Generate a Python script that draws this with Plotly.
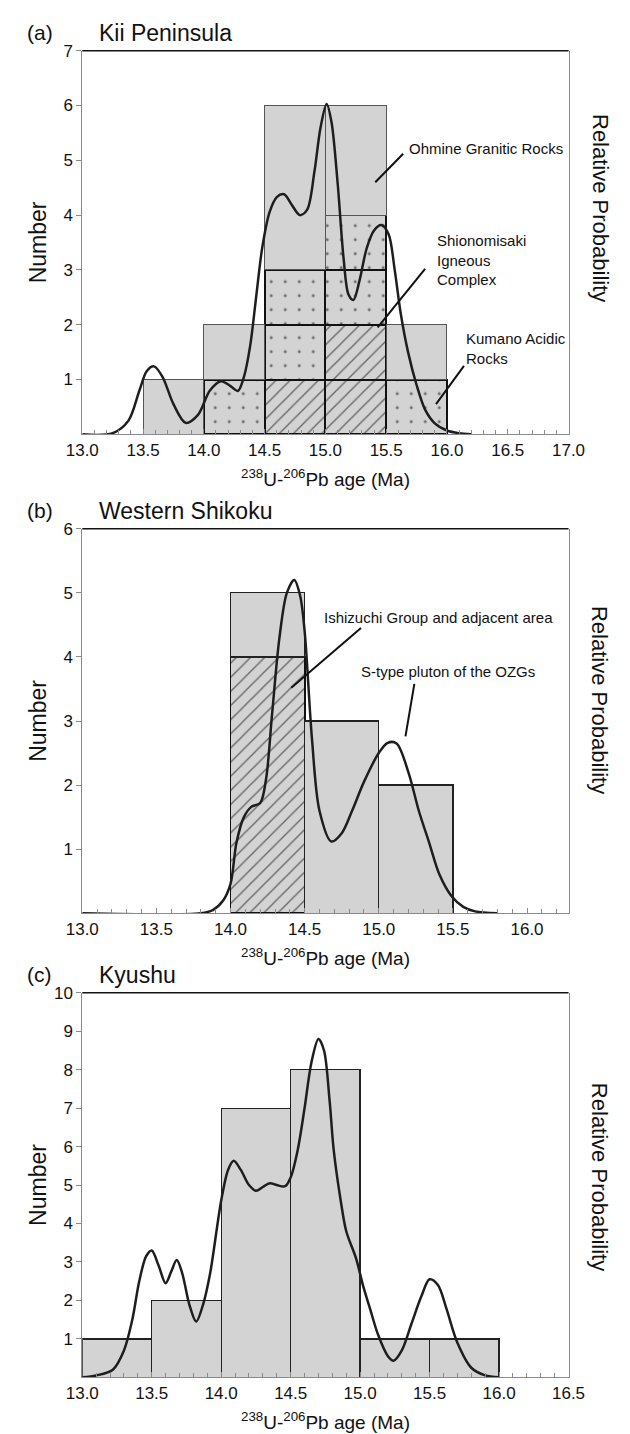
import plotly.graph_objects as go

W, H = 630, 1434
BIN = 0.5

# ---------------- data ----------------
# (a) Kii Peninsula
a_bin_left = [13.5, 14.0, 14.5, 15.0, 15.5]
a_shionomisaki = [0, 0, 1, 2, 0]   # hatched
a_kumano = [0, 1, 2, 2, 1]         # dotted
a_ohmine = [1, 1, 3, 2, 1]         # plain grey
a_curve_x = [13.0, 13.25, 13.38, 13.47, 13.53, 13.59, 13.66, 13.75, 13.85, 13.95, 14.05, 14.14,
             14.22, 14.28, 14.33, 14.38, 14.43, 14.48, 14.54, 14.60, 14.66, 14.72, 14.79, 14.85,
             14.91, 14.96, 15.01, 15.05, 15.10, 15.15, 15.19, 15.23, 15.28, 15.34, 15.40, 15.46,
             15.52, 15.57, 15.62, 15.68, 15.75, 15.82, 15.90, 16.00, 16.10, 16.20]
a_curve_y = [0.0, 0.02, 0.25, 0.8, 1.15, 1.24, 1.05, 0.55, 0.21, 0.35, 0.8, 0.97,
             0.88, 0.79, 1.05, 1.6, 2.5, 3.4, 4.05, 4.33, 4.38, 4.2, 4.0, 4.1,
             4.8, 5.6, 6.03, 5.7, 4.6, 3.2, 2.55, 2.45, 2.8, 3.4, 3.72, 3.82,
             3.65, 3.0, 2.2, 1.5, 0.9, 0.45, 0.2, 0.07, 0.02, 0.0]

# (b) Western Shikoku
b_bin_left = [14.0, 14.5, 15.0]
b_ishizuchi = [4, 0, 0]            # hatched
b_other = [1, 3, 2]                # plain grey
b_curve_x = [13.0, 13.8, 13.88, 13.95, 14.0, 14.04, 14.09, 14.14, 14.2, 14.24, 14.28, 14.33,
             14.38, 14.43, 14.47, 14.5, 14.55, 14.6, 14.68, 14.75, 14.82, 14.9, 15.0, 15.06,
             15.12, 15.2, 15.27, 15.34, 15.41, 15.49, 15.57, 15.65, 15.8]
b_curve_y = [0.0, 0.0, 0.05, 0.2, 0.46, 1.1, 1.5, 1.66, 1.72, 2.1, 3.1, 4.3,
             5.0, 5.2, 4.95, 4.4, 2.7, 1.6, 1.12, 1.25, 1.6, 2.05, 2.5, 2.66,
             2.65, 2.2, 1.6, 1.1, 0.6, 0.27, 0.1, 0.03, 0.0]

# (c) Kyushu
c_bin_left = [13.0, 13.5, 14.0, 14.5, 15.0, 15.5]
c_counts = [1, 2, 7, 8, 1, 1]
c_curve_x = [13.0, 13.1, 13.22, 13.3, 13.36, 13.41, 13.46, 13.5, 13.55, 13.6, 13.64, 13.68,
             13.72, 13.77, 13.82, 13.87, 13.92, 14.0, 14.05, 14.09, 14.14, 14.2, 14.25, 14.3,
             14.35, 14.4, 14.46, 14.5, 14.55, 14.6, 14.65, 14.7, 14.74, 14.78, 14.81, 14.86,
             14.9, 14.97, 15.02, 15.07, 15.13, 15.2, 15.24, 15.3, 15.37, 15.44, 15.5, 15.56,
             15.62, 15.7, 15.8, 15.9, 16.0]
c_curve_y = [0.0, 0.05, 0.2, 0.7, 1.5, 2.5, 3.15, 3.3, 2.9, 2.45, 2.75, 3.05,
             2.7, 1.9, 1.45, 1.9, 2.7, 4.6, 5.4, 5.63, 5.4, 5.0, 4.85, 4.95,
             5.05, 5.0, 4.97, 5.2, 5.9, 7.0, 8.2, 8.8, 8.5, 7.2, 5.9, 4.6,
             3.8, 3.1, 2.4, 1.8, 1.1, 0.55, 0.43, 0.7, 1.4, 2.1, 2.55, 2.4,
             1.8, 0.9, 0.25, 0.05, 0.0]

x_title = "<sup>238</sup>U-<sup>206</sup>Pb age (Ma)"

# ---------------- layout geometry (pixels) ----------------
PX_L, PX_R = 69, 583
panels = [
    dict(top=42, bot=428, xr=[13.0, 17.0], ymax=7, label="(a)", title="Kii Peninsula", rp=200),
    dict(top=523, bot=910, xr=[13.0, 16.28], ymax=6, label="(b)", title="Western Shikoku", rp=695),
    dict(top=990, bot=1377, xr=[13.0, 16.5], ymax=10, label="(c)", title="Kyushu", rp=1175),
]

def py(p):
    return 1 - p / H

def px(p):
    return p / W

FONT = "Liberation Sans, Arial, sans-serif"
TICKFONT = "Liberation Sans Narrow, Liberation Sans, Arial, sans-serif"
GREY = "#d3d3d3"
AXC = "#8a8a8a"

fig = go.Figure()

def centers(lefts):
    return [l + BIN / 2 for l in lefts]

def unit_layers(counts):
    return [[1 if c > k else None for c in counts] for k in range(max(counts))]

hatch = dict(shape="/", fgcolor="#000", size=10, solidity=0.14, fillmode="overlay")
dots = dict(shape=".", fgcolor="#000", size=14, solidity=0.035, fillmode="overlay")

# (a)
xa = centers(a_bin_left)
for layer in unit_layers(a_shionomisaki):
    fig.add_trace(go.Bar(x=xa, y=layer, width=BIN, xaxis="x", yaxis="y",
                         marker=dict(color=GREY, pattern=hatch, line=dict(color="#111", width=2))))
for layer in unit_layers(a_kumano):
    fig.add_trace(go.Bar(x=xa, y=layer, width=BIN, xaxis="x", yaxis="y",
                         marker=dict(color=GREY, pattern=dots, line=dict(color="#111", width=2))))
fig.add_trace(go.Bar(x=xa, y=a_ohmine, width=BIN, xaxis="x", yaxis="y",
                     marker=dict(color=GREY, line=dict(color="#555", width=1))))
fig.add_trace(go.Scatter(x=a_curve_x, y=a_curve_y, mode="lines", xaxis="x", yaxis="y",
                         line=dict(color="#1e1e1e", width=2.5, shape="spline", smoothing=0.9)))

# (b)
xb = centers(b_bin_left)
fig.add_trace(go.Bar(x=xb, y=[v if v else None for v in b_ishizuchi], width=BIN, xaxis="x2", yaxis="y2",
                     marker=dict(color=GREY, pattern=hatch, line=dict(color="#111", width=1.8))))
fig.add_trace(go.Bar(x=xb, y=b_other, width=BIN, xaxis="x2", yaxis="y2",
                     marker=dict(color=GREY, line=dict(color="#222", width=1.3))))
fig.add_trace(go.Scatter(x=b_curve_x, y=b_curve_y, mode="lines", xaxis="x2", yaxis="y2",
                         line=dict(color="#1e1e1e", width=2.5, shape="spline", smoothing=0.9)))

# (c)
xc = centers(c_bin_left)
fig.add_trace(go.Bar(x=xc, y=c_counts, width=BIN, xaxis="x3", yaxis="y3",
                     marker=dict(color=GREY, line=dict(color="#222", width=1.3))))
fig.add_trace(go.Scatter(x=c_curve_x, y=c_curve_y, mode="lines", xaxis="x3", yaxis="y3",
                         line=dict(color="#1e1e1e", width=2.5, shape="spline", smoothing=0.9)))

layout = dict(width=W, height=H, margin=dict(l=0, r=0, t=0, b=0),
              paper_bgcolor="white", plot_bgcolor="white", showlegend=False,
              barmode="stack", font=dict(family=FONT, color="#111"))
annotations = []
shapes = []
for i, p in enumerate(panels):
    sx = "" if i == 0 else str(i + 1)
    layout["xaxis" + sx] = dict(
        domain=[px(PX_L), px(PX_R)], range=p["xr"], anchor="y" + sx,
        tick0=13.0, dtick=0.5, tickformat=".1f", ticks="inside", ticklen=5, tickcolor=AXC,
        showline=True, linecolor=AXC, linewidth=1, showgrid=False, zeroline=False,
        tickfont=dict(family=TICKFONT, size=17, color="#111"),
        minor=dict(dtick=0.1, ticks="inside", ticklen=4, tickcolor=AXC, showgrid=False),
    )
    layout["yaxis" + sx] = dict(
        domain=[py(p["bot"]), py(p["top"])], range=[0, p["ymax"]], anchor="x" + sx,
        tickvals=list(range(1, p["ymax"] + 1)), ticks="outside", ticklen=5, tickcolor=AXC,
        showline=True, linecolor=AXC, linewidth=1, mirror=True, showgrid=False, zeroline=False,
        tickfont=dict(family=TICKFONT, size=17, color="#111"),
    )
    shapes.append(dict(type="line", xref="x" + sx + " domain", yref="y" + sx + " domain",
                       x0=0, x1=1, y0=1, y1=1, line=dict(color="#111", width=1.6)))
    mid = (p["top"] + p["bot"]) / 2
    annotations += [
        dict(text=p["label"], x=px(8), y=py(p["top"] - 18), xref="paper", yref="paper",
             xanchor="left", yanchor="middle", showarrow=False, font=dict(size=21)),
        dict(text=p["title"], x=px(85), y=py(p["top"] - 18), xref="paper", yref="paper",
             xanchor="left", yanchor="middle", showarrow=False, font=dict(size=23)),
        dict(text="Number", x=px(22), y=py(mid), xref="paper", yref="paper", textangle=-90,
             xanchor="center", yanchor="middle", showarrow=False, font=dict(size=23)),
        dict(text="Relative Probability", x=px(616), y=py(p["rp"]), xref="paper", yref="paper",
             textangle=90, xanchor="center", yanchor="middle", showarrow=False, font=dict(size=22)),
        dict(text=x_title, x=px((PX_L + PX_R) / 2), y=py(p["bot"] + 44), xref="paper", yref="paper",
             xanchor="center", yanchor="middle", showarrow=False, font=dict(size=19)),
    ]

NOTE = dict(size=15, family=FONT)
annotations += [
    dict(text="Ohmine Granitic Rocks", x=15.67, y=5.22, xref="x", yref="y", xanchor="left",
         yanchor="middle", showarrow=False, font=NOTE),
    dict(text="Shionomisaki<br>Igneous<br>Complex", x=15.9, y=3.18, xref="x", yref="y",
         xanchor="left", yanchor="middle", align="left", showarrow=False, font=NOTE),
    dict(text="Kumano Acidic<br>Rocks", x=16.14, y=1.56, xref="x", yref="y",
         xanchor="left", yanchor="middle", align="left", showarrow=False, font=NOTE),
    dict(text="Ishizuchi Group and adjacent area", x=15.40, y=4.62, xref="x2", yref="y2",
         xanchor="center", yanchor="middle", showarrow=False, font=NOTE),
    dict(text="S-type pluton of the OZGs", x=15.47, y=3.77, xref="x2", yref="y2",
         xanchor="center", yanchor="middle", showarrow=False, font=NOTE),
]
leaders = [("x", "y", 15.64, 5.12, 15.41, 4.6), ("x", "y", 15.82, 3.02, 15.43, 1.95),
           ("x", "y", 16.14, 1.25, 15.91, 0.55), ("x2", "y2", 14.88, 4.45, 14.41, 3.52),
           ("x2", "y2", 15.24, 3.58, 15.18, 2.76)]
for xr, yr, x0, y0, x1, y1 in leaders:
    shapes.append(dict(type="line", xref=xr, yref=yr, x0=x0, y0=y0, x1=x1, y1=y1,
                       line=dict(color="#111", width=2)))

layout["annotations"] = annotations
layout["shapes"] = shapes
fig.update_layout(**layout)
fig.write_html("out.html", config={"displayModeBar": False, "staticPlot": True},
               post_script="document.body.style.margin='0';document.body.style.overflow='hidden';")
